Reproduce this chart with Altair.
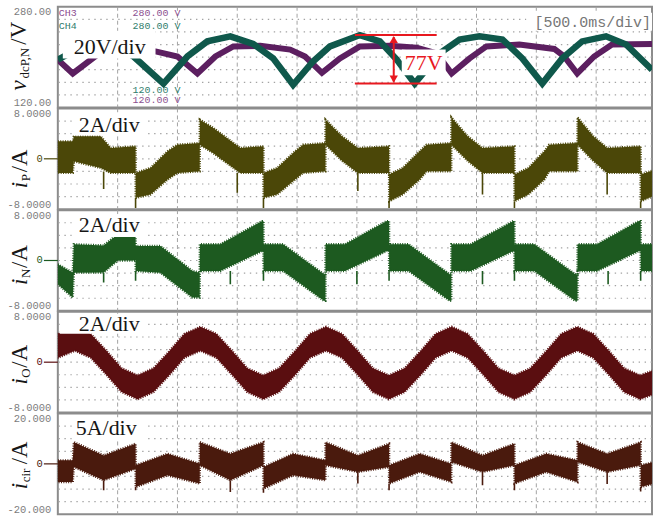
import altair as alt
import pandas as pd

# 500 ms/div time base, visible span in seconds
T_END = 4.967
W, H = 596, 101

# ---------------- DC-link capacitor voltages (V) ----------------
ch3_t = [0.0, 0.125, 0.333, 0.567, 0.817, 1.0, 1.167, 1.317, 1.467, 1.692, 1.942, 2.067, 2.208, 2.358,
         2.525, 2.775, 3.0, 3.167, 3.292, 3.442, 3.583, 3.858, 4.15, 4.233, 4.342, 4.483, 4.633, 4.967]
ch3_v = [196, 174, 204, 213, 209, 201, 174, 201, 217, 218, 212, 201, 175, 198,
         217, 218, 215, 206, 174, 198, 217, 220, 213, 201, 174, 201, 220, 221]
ch4_t = [0.0, 0.342, 0.633, 0.883, 1.083, 1.25, 1.442, 1.633, 1.8, 1.967, 2.133, 2.275, 2.525, 2.692,
         2.833, 2.983, 3.192, 3.358, 3.525, 3.717, 3.883, 4.05, 4.217, 4.383, 4.583, 4.75, 4.967]
ch4_v = [196, 231, 201, 158, 201, 225, 233, 221, 198, 156, 193, 217, 235, 225,
         196, 158, 206, 228, 233, 228, 198, 158, 198, 225, 233, 220, 180]
ripple_hi, ripple_lo = 235, 158          # 77 V peak-to-peak marker

# ---------------- arm current iP (A): envelope of the switching band ----------------
ip_t = [0.0, 0.125, 0.134, 0.358, 0.442, 0.65, 0.651, 0.775, 0.917, 1.0, 1.186, 1.187, 1.3, 1.525,
        1.719, 1.72, 1.833, 1.983, 2.05, 2.237, 2.238, 2.375, 2.508, 2.769, 2.77, 2.883, 3.025, 3.083,
        3.289, 3.29, 3.425, 3.55, 3.817, 3.818, 3.933, 4.067, 4.108, 4.344, 4.345, 4.475, 4.592, 4.872,
        4.873, 4.967]
ip_hi = [2.77, 2.77, 3.57, 3.57, 1.72, 1.98, -2.24, -1.45, 1.19, 2.24, 2.5, 6.21, 4.9, 1.72,
         1.98, -2.24, -1.45, 1.19, 2.24, 2.5, 6.21, 3.6, 1.72, 1.98, -2.51, -1.45, 1.19, 2.24,
         2.5, 6.58, 3.6, 1.72, 1.98, -2.51, -1.45, 1.19, 2.24, 2.5, 6.58, 3.6, 1.72, 1.98,
         -2.51, -1.9]
ip_lo = [-2.24, -2.24, -0.4, -1.45, -2.24, -2.24, -6.2, -5.67, -3.3, -2.24, -1.98, 2.24, 0.9, -2.24,
         -2.24, -6.2, -5.67, -3.3, -2.24, -1.98, 2.24, -0.3, -2.24, -2.24, -6.74, -5.67, -3.3, -1.98,
         -1.98, 2.24, -0.3, -2.24, -2.24, -6.74, -5.67, -3.3, -1.98, -1.98, 2.24, -0.3, -2.24, -2.24,
         -6.74, -6.0]
ip_sp_t = [0.383, 0.65, 1.5, 1.719, 2.508, 2.769, 3.55, 3.817, 4.592, 4.872]
ip_sp_a = [-2.0, -6.2, -2.24, -6.2, -2.24, -6.74, -2.24, -6.74, -2.24, -6.74]
ip_sp_b = [-4.8, -7.8, -5.4, -7.8, -5.1, -7.8, -5.67, -7.8, -5.67, -7.8]

# ---------------- arm current iN (A) ----------------
in_t = [0.0, 0.125, 0.134, 0.383, 0.5, 0.65, 0.651, 0.858, 1.125, 1.186, 1.187, 1.358, 1.708, 1.719,
        1.72, 1.883, 2.225, 2.237, 2.238, 2.4, 2.75, 2.769, 2.77, 2.933, 3.275, 3.289, 3.29, 3.45,
        3.808, 3.817, 3.818, 3.983, 4.325, 4.344, 4.345, 4.508, 4.858, 4.872, 4.873, 4.967]
in_hi = [-0.6, -1.93, 2.57, 2.4, 4.15, 4.15, 2.3, 2.3, -1.66, -1.93, 2.57, 2.57, 6.26, 6.26,
         2.57, 2.57, -2.19, -2.19, 2.57, 2.57, 6.26, 6.26, 2.57, 2.57, -2.19, -2.19, 2.57, 2.57,
         6.26, 6.26, 2.57, 2.57, -2.19, -2.19, 2.57, 2.57, 6.26, 6.26, 2.57, 2.57]
in_lo = [-3.77, -5.9, -1.93, -1.9, 0.0, 0.0, -1.66, -1.93, -5.9, -5.9, -1.66, -1.66, 1.5, 1.5,
         -1.66, -1.66, -6.4, -6.4, -1.66, -1.66, 1.5, 1.5, -1.66, -1.66, -6.4, -6.4, -1.66, -1.66,
         1.5, 1.5, -1.66, -1.66, -6.4, -6.4, -1.66, -1.66, 1.5, 1.5, -1.66, -1.66]
in_sp_t = [0.383, 0.65, 1.442, 1.719, 2.5, 2.769, 3.55, 3.817, 4.6, 4.872]
in_sp_a = [-1.9, -1.66, -1.66, -1.66, -1.66, -1.66, -1.66, -1.66, -1.66, -1.66]
in_sp_b = [-3.5, -3.2, -3.77, -3.2, -3.77, -3.2, -3.77, -3.2, -3.77, -3.2]

# ---------------- output current iO (A) ----------------
io_t = [0.0, 0.142, 0.275, 0.408, 0.533, 0.667, 0.8, 0.933, 1.058, 1.192, 1.325, 1.458, 1.583,
        1.717, 1.85, 1.983, 2.108, 2.242, 2.375, 2.508, 2.633, 2.767, 2.9, 3.033, 3.158, 3.292,
        3.425, 3.558, 3.683, 3.817, 3.95, 4.083, 4.208, 4.342, 4.475, 4.608, 4.733, 4.867, 4.967]
io_hi = [4.5, 5.62, 4.5, 1.77, -0.95, -2.09, -0.95, 1.77, 4.5, 5.62, 4.5, 1.77, -0.95,
         -2.09, -0.95, 1.77, 4.5, 5.62, 4.5, 1.77, -0.95, -2.09, -0.95, 1.77, 4.5, 5.62,
         4.5, 1.77, -0.95, -2.09, -0.95, 1.77, 4.5, 5.62, 4.5, 1.77, -0.95, -2.09, -1.4]
io_lo = [0.7, 1.82, 0.7, -2.03, -4.75, -5.89, -4.75, -2.03, 0.7, 1.82, 0.7, -2.03, -4.75,
         -5.89, -4.75, -2.03, 0.7, 1.82, 0.7, -2.03, -4.75, -5.89, -4.75, -2.03, 0.7, 1.82,
         0.7, -2.03, -4.75, -5.89, -4.75, -2.03, 0.7, 1.82, 0.7, -2.03, -4.75, -5.89, -5.2]

# ---------------- circulating current icir (A) ----------------
ic_t = [0.0, 0.125, 0.134, 0.383, 0.65, 0.651, 0.917, 1.186, 1.187, 1.442, 1.719, 1.72, 1.967,
        2.237, 2.238, 2.508, 2.769, 2.77, 3.025, 3.289, 3.29, 3.55, 3.817, 3.818, 4.083, 4.344,
        4.345, 4.592, 4.872, 4.873, 4.967]
ic_hi = [1.39, 1.39, 8.63, 3.37, 8.0, -0.59, 4.0, 0.08, 8.63, 4.0, 8.63, -1.27, 4.0,
         1.4, 8.63, 3.37, 8.0, -0.59, 4.0, 0.08, 8.63, 3.37, 8.0, -0.59, 4.0, 1.4,
         8.63, 4.0, 8.63, -0.59, 0.5]
ic_lo = [-7.2, -7.2, -1.27, -6.53, -1.9, -9.2, -4.55, -7.84, -0.59, -6.53, -0.59, -9.8, -4.55,
         -6.5, -0.59, -3.2, -1.27, -7.8, -3.2, -7.2, 0.73, -3.2, -0.59, -7.8, -3.2, -7.2,
         0.73, -3.2, -0.59, -9.2, -8.0]
ic_sp_t = [0.383, 0.65, 1.442, 1.719, 2.508, 2.769, 3.55, 3.817, 4.592, 4.872]
ic_sp_a = [-6.53, -9.2, -6.53, -9.8, -3.2, -7.8, -3.2, -7.8, -3.2, -9.2]
ic_sp_b = [-10.5, -10.5, -11.2, -11.5, -7.8, -10.5, -8.5, -10.5, -8.0, -11.0]

# grid: vertical divisions every 500 ms
div_t = [0.5, 1.0, 1.5, 2.0, 2.5, 3.0, 3.5, 4.0, 4.5]

C_CH3, C_CH4 = "#5c1f60", "#0f584b"
C_IP, C_IN, C_IO, C_IC = "#4b4708", "#1d5a20", "#5a0e10", "#4a1a0d"
RED = "#e8181f"
GRID = "#a3a3a3"
LBL = "#7d7d7d"
SERIF = "Liberation Serif"
MONO = "Liberation Mono"

xscale = alt.Scale(domain=[0, T_END], nice=False, zero=False)
one = pd.DataFrame({"k": [0]})


def yaxis(vals, expr):
    return alt.Axis(values=vals, labelExpr=expr, labelFlush=True, ticks=False, grid=False,
                    domain=False, title=None, labelFont=MONO, labelFontSize=10.5,
                    labelColor=LBL, labelPadding=7)


def txt(s, x, y, size, color="#161616", font=SERIF, align="left", baseline="middle",
        angle=0, style="normal"):
    return alt.Chart(one).mark_text(text=s, font=font, fontSize=size, color=color, align=align,
                                    baseline=baseline, angle=angle, fontStyle=style).encode(
        x=alt.value(x), y=alt.value(y))


def box(x0, x1, y0, y1):
    return alt.Chart(one).mark_rect(color="white").encode(
        x=alt.value(x0), x2=alt.value(x1), y=alt.value(y0), y2=alt.value(y1))


def grid_layers(ys, ya, rows):
    g_rows = alt.Chart(pd.DataFrame({"g": rows})).mark_rule(
        color=GRID, strokeWidth=1.2, strokeDash=[1.4, 4.6]).encode(
        y=alt.Y("g:Q", scale=ys, axis=ya))
    g_cols = alt.Chart(pd.DataFrame({"t": div_t})).mark_rule(
        color=GRID, strokeWidth=1, strokeDash=[4, 3]).encode(
        x=alt.X("t:Q", scale=xscale, axis=None))
    # keeps the left extent of the whole figure at the label column
    anchor = alt.Chart(one).mark_rule(color="white", strokeWidth=1).encode(
        x=alt.value(-56.5), x2=alt.value(-56), y=alt.value(50))
    return [anchor, g_rows, g_cols]


def band(t, hi, lo, color, ys, ya):
    df = pd.DataFrame({"t": t, "hi": hi, "lo": lo})
    # switching ripple drawn as a filled envelope with a ragged outline
    return alt.Chart(df).mark_area(color=color, stroke=color, strokeWidth=2.4,
                                   strokeDash=[1, 1.4], clip=True,
                                   interpolate="linear").encode(
        x=alt.X("t:Q", scale=xscale, axis=None),
        y=alt.Y("hi:Q", scale=ys, axis=ya), y2="lo:Q")


def spikes(t, a, b, color, ys, ya):
    df = pd.DataFrame({"t": t, "a": a, "b": b})
    return alt.Chart(df).mark_rule(color=color, strokeWidth=1.6, clip=True).encode(
        x=alt.X("t:Q", scale=xscale, axis=None),
        y=alt.Y("a:Q", scale=ys, axis=ya), y2="b:Q")


def zero_mark(color, ys, ya):
    z = pd.DataFrame({"z": [0]})
    r = alt.Chart(z).mark_rule(color=color, strokeWidth=1.2).encode(
        x=alt.value(-14), x2=alt.value(0), y=alt.Y("z:Q", scale=ys, axis=ya))
    s = alt.Chart(z).mark_text(text="0", font=MONO, fontSize=10.5, color=color, align="right",
                               baseline="middle").encode(
        x=alt.value(-15), y=alt.Y("z:Q", scale=ys, axis=ya))
    return [r, s]


def ylabel(parts):
    # parts: (text, y start, baseline x, size, italic)
    return [txt(s, x, y, size, angle=270, baseline="alphabetic",
                style="italic" if it else "normal") for s, y, x, size, it in parts]


# ---------------- panel 1: capacitor voltages ----------------
ys1 = alt.Scale(domain=[120, 280], nice=False, zero=False)
ya1 = yaxis([120, 280], "datum.value > 200 ? '280.00' : '120.00'")
v3 = pd.DataFrame({"t": ch3_t, "v": ch3_v})
v4 = pd.DataFrame({"t": ch4_t, "v": ch4_v})
red_h = pd.DataFrame({"t": [2.483, 2.483], "t2": [3.167, 3.167], "v": [ripple_hi, ripple_lo]})
arrow = pd.DataFrame({"t": [2.808], "a": [ripple_hi - 3], "b": [ripple_lo + 3]})
heads = pd.DataFrame({"t": [2.808, 2.808], "v": [ripple_hi - 7, ripple_lo + 7],
                      "s": ["triangle-up", "triangle-down"]})
lbl77 = pd.DataFrame({"t": [2.9], "v": [190], "s": [f"{ripple_hi - ripple_lo}V"]})
box77 = pd.DataFrame({"t": [2.875], "t2": [3.242], "v": [171], "v2": [212]})

X = alt.X("t:Q", scale=xscale, axis=None)
p1 = alt.layer(
    *grid_layers(ys1, ya1, [140, 160, 180, 200, 220, 240, 260]),
    alt.Chart(v3).mark_line(color=C_CH3, strokeWidth=6, clip=True).encode(
        x=X, y=alt.Y("v:Q", scale=ys1, axis=ya1)),
    alt.Chart(v4).mark_line(color=C_CH4, strokeWidth=6.5, clip=True).encode(
        x=X, y=alt.Y("v:Q", scale=ys1, axis=ya1)),
    alt.Chart(box77).mark_rect(color="white").encode(
        x=X, x2="t2:Q", y=alt.Y("v:Q", scale=ys1, axis=ya1), y2="v2:Q"),
    alt.Chart(red_h).mark_rule(color=RED, strokeWidth=2).encode(
        x=X, x2="t2:Q", y=alt.Y("v:Q", scale=ys1, axis=ya1)),
    alt.Chart(arrow).mark_rule(color=RED, strokeWidth=2).encode(
        x=X, y=alt.Y("a:Q", scale=ys1, axis=ya1), y2="b:Q"),
    alt.Chart(heads).mark_point(color=RED, filled=True, opacity=1, size=70).encode(
        x=X, y=alt.Y("v:Q", scale=ys1, axis=ya1),
        shape=alt.Shape("s:N", scale=alt.Scale(domain=["triangle-up", "triangle-down"],
                                                range=["triangle-up", "triangle-down"]),
                        legend=None)),
    alt.Chart(lbl77).mark_text(color=RED, font=SERIF, fontSize=22, align="left",
                               baseline="middle").encode(
        x=X, y=alt.Y("v:Q", scale=ys1, axis=ya1), text="s:N"),
    box(5, 98, 24, 52),
    txt("20V/div", 16, 40, 22),
    box(470, 596, 6, 24),
    txt("[500.0ms/div]", 595, 15, 15, color="#767676", font=MONO, align="right"),
    txt("CH3", 1, 6, 10, color="#8c4f90", font=MONO),
    txt("CH4", 1, 19, 10, color="#2f7d6c", font=MONO),
    txt("280.00 V", 75, 6, 10, color="#8c4f90", font=MONO),
    txt("280.00 V", 75, 19, 10, color="#2f7d6c", font=MONO),
    txt("120.00 V", 75, 83, 10, color="#2f7d6c", font=MONO),
    txt("120.00 V", 75, 94, 10, color="#8c4f90", font=MONO),
    *ylabel([("v", 84, -32, 23, True), ("dcP,N", 72, -29, 13, False), ("/V", 38, -32, 23, False)]),
).properties(width=W, height=H)


def current_panel(t, hi, lo, sp, color, dom, rows, expr, label, lab_y, title, lab_x=21,
                  lab_box=(14, 88, 4, 27)):
    ys = alt.Scale(domain=dom, nice=False, zero=False)
    ya = yaxis(dom, expr)
    layers = grid_layers(ys, ya, rows) + [band(t, hi, lo, color, ys, ya)]
    if sp is not None:
        layers.append(spikes(*sp, color, ys, ya))
    layers += [box(*lab_box), txt(label, lab_x, lab_y, 22)]
    layers += zero_mark(color, ys, ya)
    layers += ylabel(title)
    return alt.layer(*layers).properties(width=W, height=H)


rows8 = [-6, -4, -2, 0, 2, 4, 6]
e8 = "datum.value > 0 ? '8.0000' : '-8.0000'"
p2 = current_panel(ip_t, ip_hi, ip_lo, (ip_sp_t, ip_sp_a, ip_sp_b), C_IP, [-8, 8], rows8, e8,
                   "2A/div", 17,
                   [("i", 80, -31, 23, True), ("P", 73, -28, 13, False), ("/A", 64, -31, 23, False)])
p3 = current_panel(in_t, in_hi, in_lo, (in_sp_t, in_sp_a, in_sp_b), C_IN, [-8, 8], rows8, e8,
                   "2A/div", 14.5,
                   [("i", 75, -31, 23, True), ("N", 68, -28, 13, False), ("/A", 58, -31, 23, False)])
p4 = current_panel(io_t, io_hi, io_lo, None, C_IO, [-8, 8], rows8, e8,
                   "2A/div", 12.5,
                   [("i", 73, -31, 23, True), ("O", 66, -28, 13, False), ("/A", 56, -31, 23, False)],
                   lab_box=(2, 88, 2, 22))
p5 = current_panel(ic_t, ic_hi, ic_lo, (ic_sp_t, ic_sp_a, ic_sp_b), C_IC, [-20, 20],
                   [-15, -10, -5, 0, 5, 10, 15], "datum.value > 0 ? '20.000' : '-20.000'",
                   "5A/div", 14.5,
                   [("i", 76, -31, 23, True), ("cir", 69, -28, 13, False), ("/A", 51, -31, 23, False)],
                   lab_x=18)

# panels stacked on a fixed 102 px pitch, using only their plot sizes for placement
chart = alt.vconcat(p1, p2, p3, p4, p5, spacing=1, bounds="flush").properties(
    padding={"left": 0, "top": 4, "right": 0, "bottom": 0}
).configure_view(stroke="#8c8c8c", strokeWidth=2)

chart.save("out.html", embed_options={"renderer": "svg", "actions": False})
